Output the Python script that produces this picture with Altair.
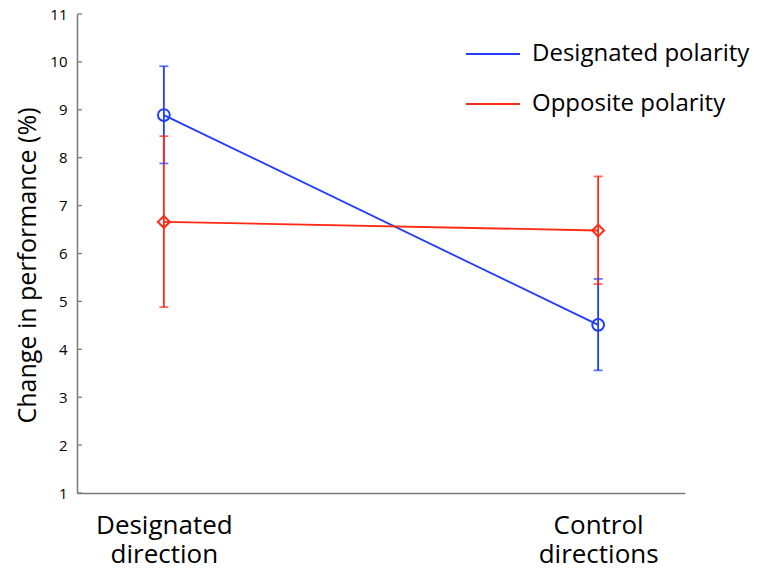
import json
import altair as alt
import pandas as pd

# ---- data ----
condition_pos = [1, 2]
condition_lines = [["Designated", "direction"], ["Control", "directions"]]
series = ["Designated polarity", "Opposite polarity"]
colors = ["#1f3cff", "#ff2a14"]
shapes = ["circle", "diamond"]
means_designated = [8.89, 4.51]
upper_designated = [9.91, 5.47]
lower_designated = [7.88, 3.56]
means_opposite = [6.66, 6.48]
upper_opposite = [8.45, 7.61]
lower_opposite = [4.88, 5.36]
y_ticks = list(range(1, 12))

rows = []
for s, m, u, l in [
    (series[0], means_designated, upper_designated, lower_designated),
    (series[1], means_opposite, upper_opposite, lower_opposite),
]:
    for p, mv, uv, lv in zip(condition_pos, m, u, l):
        rows.append({"series": s, "pos": p, "mean": mv, "hi": uv, "lo": lv})
df = pd.DataFrame(rows)
ticks_df = pd.DataFrame({"tick": y_ticks})

FONT = "Open Sans"
AXIS_GREY = "#7a7a7a"

label_expr = (
    f"datum.value == {condition_pos[0]} ? {json.dumps(condition_lines[0])} : "
    f"{json.dumps(condition_lines[1])}"
)

x_enc = alt.X(
    "pos:Q",
    scale=alt.Scale(domain=[0.8, 2.2], nice=False, zero=False),
    axis=alt.Axis(
        values=condition_pos, labelExpr=label_expr, tickSize=0, grid=False,
        title=None, domainColor=AXIS_GREY, domainWidth=1.5,
        labelFontSize=26, labelFont=FONT, labelColor="black",
        labelLineHeight=29, labelPadding=19, labelBaseline="top",
    ),
)

y_axis = alt.Axis(
    values=y_ticks, tickSize=0, grid=False, title="Change in performance (%)",
    domainColor=AXIS_GREY, domainWidth=1.5,
    labelFontSize=15, labelFont=FONT, labelColor="black", labelPadding=10,
    titleFontSize=25, titleFont=FONT, titleFontWeight="normal", titleColor="black",
    titleAngle=270, titleX=-42, titleY=251, titleAlign="center",
    titleBaseline="alphabetic",
)
y_scale = alt.Scale(domain=[1, 11], nice=False, zero=False)
color_scale = alt.Scale(domain=series, range=colors)

color_enc = alt.Color(
    "series:N",
    scale=color_scale,
    legend=alt.Legend(
        title=None, orient="none", legendX=388, legendY=12,
        symbolType="stroke", symbolSize=2916, symbolStrokeWidth=2,
        labelFontSize=24, labelFont=FONT, labelColor="black", labelLimit=400,
        labelOffset=11, rowPadding=10,
    ),
)
color_nolegend = alt.Color("series:N", scale=color_scale, legend=None)

base = alt.Chart(df)

lines = base.mark_line(strokeWidth=1.8).encode(
    x=x_enc, y=alt.Y("mean:Q", scale=y_scale, axis=y_axis), color=color_enc,
)

err = base.mark_rule(strokeWidth=1.8).encode(
    x=x_enc, y=alt.Y("hi:Q", scale=y_scale, axis=y_axis), y2="lo:Q",
    color=color_nolegend,
)

cap_hi = base.mark_tick(orient="horizontal", size=9, thickness=1.8).encode(
    x=x_enc, y=alt.Y("hi:Q", scale=y_scale, axis=y_axis), color=color_nolegend,
)
cap_lo = base.mark_tick(orient="horizontal", size=9, thickness=1.8).encode(
    x=x_enc, y=alt.Y("lo:Q", scale=y_scale, axis=y_axis), color=color_nolegend,
)

point_layers = []
for s, c, shp in zip(series, colors, shapes):
    point_layers.append(
        base.transform_filter(alt.datum.series == s)
        .mark_point(filled=False, size=140, strokeWidth=2, opacity=1, shape=shp, color=c)
        .encode(x=x_enc, y=alt.Y("mean:Q", scale=y_scale, axis=y_axis))
    )

inward_ticks = alt.Chart(ticks_df).mark_rule(color=AXIS_GREY, strokeWidth=1.3).encode(
    y=alt.Y("tick:Q", scale=y_scale, axis=y_axis),
    x=alt.value(0), x2=alt.value(5),
)

chart = alt.layer(inward_ticks, lines, err, cap_hi, cap_lo, *point_layers).properties(
    width=608, height=479,
    autosize=alt.AutoSizeParams(type="none"),
    padding={"left": 69, "top": 6, "right": 70, "bottom": 70},
).configure(background="white").configure_view(strokeWidth=0, stroke="transparent")

chart.save("out.html", embed_options={"renderer": "svg", "actions": False})
